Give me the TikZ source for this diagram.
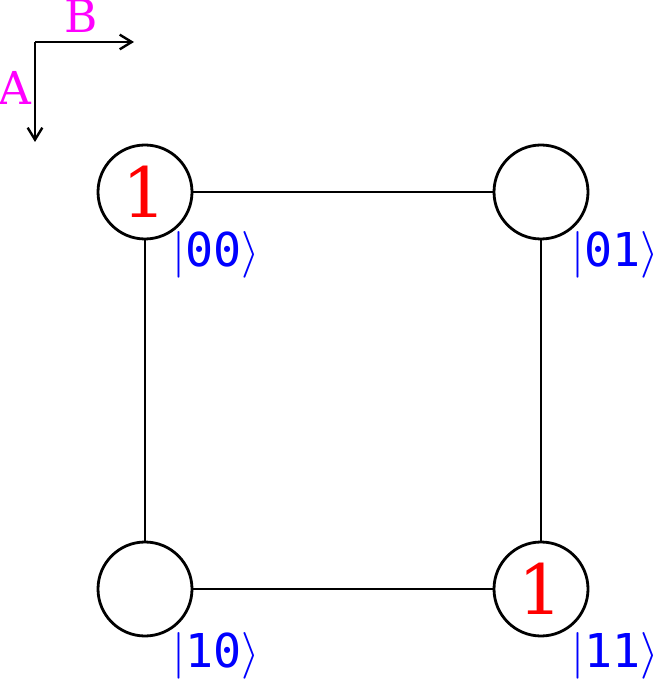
\documentclass[tikz,border=0pt]{standalone}
\usepackage{fontspec}
\usepackage{unicode-math}
\setmainfont{DejaVu Serif}
\setmathfont{Latin Modern Math}
\newfontfamily\kmono{DejaVu Sans Mono}
\usetikzlibrary{arrows.meta}
\definecolor{mag}{RGB}{255,0,255}
\definecolor{kred}{RGB}{255,0,0}
\definecolor{kblue}{RGB}{0,0,255}
\tikzset{
  state/.style={circle, draw, line width=2.1pt, minimum size=70.5pt, inner sep=0pt,
    text=kred, font=\fontsize{52}{60}\selectfont},
  edge/.style={line width=1.8pt},
  axis/.style={line width=1.8pt, -{Straight Barb[length=9pt,width=11pt,line width=1.8pt]}},
  axlabel/.style={text=mag, font=\fontsize{34}{40}\selectfont, inner sep=0pt, anchor=base},
  ket/.style={text=kblue, font=\fontsize{35}{40}\selectfont, inner sep=0pt, anchor=base west}
}
\newcommand{\myket}[1]{$|$\kmono #1$\rangle$}
\begin{document}
\begin{tikzpicture}[x=0.75pt,y=-0.75pt]
\useasboundingbox (0,0) rectangle (657,680);
\coordinate (o) at (35,42);
\coordinate (bx) at (134,42);
\coordinate (ay) at (35,142);
\draw[axis] (o) -- (bx);
\draw[axis] (o) -- (ay);
\node[axlabel] (B) at (81,33) {B};
\node[axlabel] (A) at (15,105) {A};
\node[state] (s00) at (145,192) {1};
\node[state] (s01) at (541,192) {};
\node[state] (s10) at (145,589) {};
\node[state] (s11) at (541,589) {1};
\draw[edge] (s00) -- (s01);
\draw[edge] (s00) -- (s10);
\draw[edge] (s01) -- (s11);
\draw[edge] (s10) -- (s11);
\node[ket] (k00) at (172,267) {\myket{00}};
\node[ket] (k01) at (571,267) {\myket{01}};
\node[ket] (k10) at (172,667) {\myket{10}};
\node[ket] (k11) at (571,667) {\myket{11}};
\end{tikzpicture}
\end{document}
